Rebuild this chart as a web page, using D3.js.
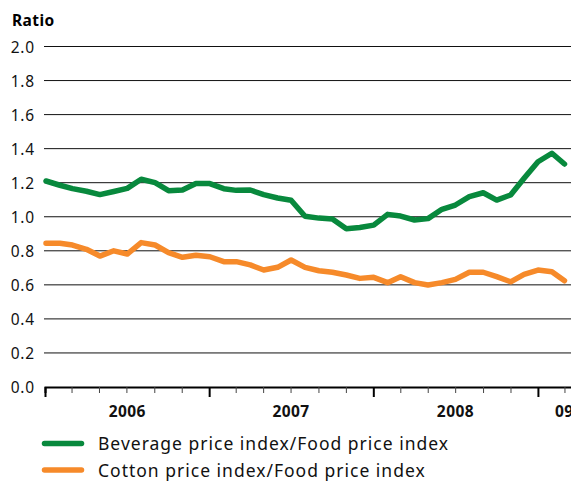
<!DOCTYPE html>
<html>
<head>
<meta charset="utf-8">
<script src="https://cdn.jsdelivr.net/npm/d3@7.9.0/dist/d3.min.js"></script>
<style>
  body { margin: 0; background: #fff; }
  svg { display: block; font-family: "Noto Sans", "Open Sans", sans-serif; }
</style>
</head>
<body>
<svg id="chart" width="571" height="481"></svg>
<script>
// Monthly ratios, Jan 2006 - Mar 2009
const months = d3.timeMonths(new Date(2006, 0, 1), new Date(2009, 3, 1));

const beverage = [
  1.21, 1.185, 1.165, 1.15, 1.13, 1.148, 1.167, 1.22, 1.20, 1.153, 1.157, 1.195,
  1.195, 1.165, 1.155, 1.157, 1.13, 1.11, 1.097, 1.003, 0.992, 0.987, 0.93, 0.937,
  0.951, 1.014, 1.004, 0.981, 0.989, 1.044, 1.069, 1.118, 1.141, 1.098, 1.128, 1.226,
  1.323, 1.373, 1.31
];

const cotton = [
  0.844, 0.844, 0.834, 0.809, 0.769, 0.80, 0.781, 0.848, 0.834, 0.789, 0.762, 0.774,
  0.765, 0.736, 0.736, 0.717, 0.687, 0.703, 0.746, 0.703, 0.683, 0.674, 0.658, 0.638,
  0.644, 0.613, 0.648, 0.613, 0.599, 0.613, 0.632, 0.674, 0.674, 0.648, 0.618, 0.662,
  0.687, 0.677, 0.624
];

const yTicks = [0, 0.2, 0.4, 0.6, 0.8, 1.0, 1.2, 1.4, 1.6, 1.8, 2.0];
const yearLabels = ['2006', '2007', '2008', '09'];
const seriesNames = ['Beverage price index/Food price index', 'Cotton price index/Food price index'];
const seriesColors = ['#08893d', '#f68a2a'];

const width = 571;
const svg = d3.select('#chart');

// scales
const x = d3.scaleTime()
  .domain([new Date(2006, 0, 1), new Date(2009, 0, 1)])
  .range([46, 538]);
const xEnd = x.invert(width + 10);

const y = d3.scaleLinear().domain([0, 2]).range([387, 46.5]);

// axis title
svg.append('text')
  .attr('x', 12).attr('y', 26)
  .attr('font-size', 15.5).attr('font-weight', 700)
  .attr('letter-spacing', 0.4)
  .text('Ratio');

// gridlines
svg.append('g')
  .selectAll('line')
  .data(yTicks.filter(d => d > 0))
  .join('line')
  .attr('x1', 44).attr('x2', width)
  .attr('y1', d => y(d)).attr('y2', d => y(d))
  .attr('stroke', '#111').attr('stroke-width', 1);

// y labels
svg.append('g')
  .selectAll('text')
  .data(yTicks)
  .join('text')
  .attr('x', 35).attr('y', d => y(d))
  .attr('text-anchor', 'end')
  .attr('dominant-baseline', 'central')
  .attr('font-size', 15.5)
  .attr('letter-spacing', 0.8)
  .attr('fill', '#111')
  .text(d => d.toFixed(1));

// x axis with two-month ticks, longer ticks at January
const xAxis = d3.axisBottom(x.copy().domain([new Date(2006, 0, 1), xEnd]).range([45, width + 10]))
  .ticks(d3.timeMonth.every(2))
  .tickSize(6)
  .tickFormat('');

const gx = svg.append('g')
  .attr('transform', `translate(0,${y(0)})`)
  .call(xAxis);

gx.select('.domain').attr('stroke', '#000').attr('stroke-width', 2);
gx.selectAll('.tick line')
  .attr('stroke', '#444')
  .attr('stroke-width', 1)
  .filter(d => d.getMonth() === 0)
  .attr('stroke', '#000')
  .attr('stroke-width', 2)
  .attr('y2', 10);

// year labels
svg.append('g')
  .selectAll('text')
  .data(yearLabels)
  .join('text')
  .attr('x', (d, i) => i < 3 ? x(new Date(2006 + i, 6, 1)) : x(new Date(2009, 0, 1)) + 17)
  .attr('y', 417)
  .attr('text-anchor', (d, i) => i < 3 ? 'middle' : 'start')
  .attr('font-size', 15.5)
  .attr('font-weight', 700)
  .attr('letter-spacing', 0.4)
  .attr('fill', '#111')
  .text(d => d);

// lines
const line = d3.line()
  .x((d, i) => x(months[i]))
  .y(d => y(d));

[beverage, cotton].forEach((s, k) => {
  svg.append('path')
    .datum(s)
    .attr('d', line)
    .attr('fill', 'none')
    .attr('stroke', seriesColors[k])
    .attr('stroke-width', 5.5)
    .attr('stroke-linejoin', 'round')
    .attr('stroke-linecap', 'round');
});

// legend
const legend = svg.append('g')
  .selectAll('g')
  .data(seriesNames)
  .join('g')
  .attr('transform', (d, i) => `translate(0,${443.5 + i * 26.5})`);

legend.append('line')
  .attr('x1', 44.5).attr('x2', 81.5)
  .attr('stroke', (d, i) => seriesColors[i])
  .attr('stroke-width', 5.5)
  .attr('stroke-linecap', 'round');

legend.append('text')
  .attr('x', 98).attr('y', 6.5)
  .attr('font-size', 17.5)
  .attr('letter-spacing', 1)
  .attr('fill', '#111')
  .text(d => d);
</script>
</body>
</html>
